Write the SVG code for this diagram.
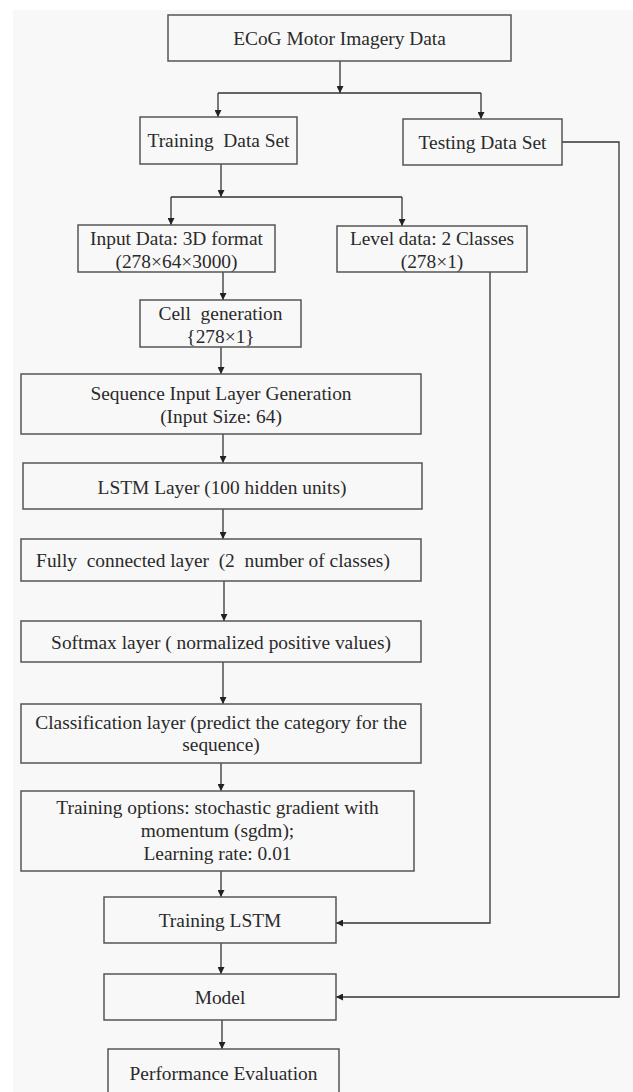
<svg xmlns="http://www.w3.org/2000/svg" width="633" height="1092" viewBox="0 0 633 1092">
<style>
.box{fill:#f8f8f8;stroke:#555;stroke-width:1.5}
.t{font-family:'Liberation Serif','Times New Roman','DejaVu Serif',serif;font-size:19.4px;fill:#2a2a2a;text-anchor:middle}
.c{fill:none;stroke:#333;stroke-width:1.3}
</style>
<defs>
<marker id="ah" viewBox="0 0 10 10" refX="10" refY="5" markerWidth="7" markerHeight="7" markerUnits="userSpaceOnUse" orient="auto">
<path d="M0,0 L10,5 L0,10 z" fill="#222"/>
</marker>
</defs>
<rect x="0" y="0" width="633" height="1092" fill="#ffffff"/>
<rect x="13" y="10" width="620" height="1082" fill="#f8f8f8"/>

<g id="connectors">
<path class="c" d="M340,61 V93" marker-end="url(#ah)"/>
<path class="c" d="M218,93 H481"/>
<path class="c" d="M218,93 V117" marker-end="url(#ah)"/>
<path class="c" d="M481,93 V119" marker-end="url(#ah)"/>
<path class="c" d="M221,164 V197" marker-end="url(#ah)"/>
<path class="c" d="M171,197 H402"/>
<path class="c" d="M171,197 V225" marker-end="url(#ah)"/>
<path class="c" d="M402,197 V226" marker-end="url(#ah)"/>
<path class="c" d="M223,272 V300" marker-end="url(#ah)"/>
<path class="c" d="M221,347 V374" marker-end="url(#ah)"/>
<path class="c" d="M223,434 V463" marker-end="url(#ah)"/>
<path class="c" d="M223,509 V539" marker-end="url(#ah)"/>
<path class="c" d="M224,581 V621" marker-end="url(#ah)"/>
<path class="c" d="M223,662 V704" marker-end="url(#ah)"/>
<path class="c" d="M221,763 V791" marker-end="url(#ah)"/>
<path class="c" d="M221,871 V897" marker-end="url(#ah)"/>
<path class="c" d="M221,943 V974" marker-end="url(#ah)"/>
<path class="c" d="M222,1020 V1049" marker-end="url(#ah)"/>
<path class="c" d="M490,272 V923 H336" marker-end="url(#ah)"/>
<path class="c" d="M562,142 H619 V997 H336" marker-end="url(#ah)"/>
</g>

<g id="ecog"><rect class="box" x="168" y="15" width="343" height="46"/><text class="t" x="339.5" y="44.5">ECoG Motor Imagery Data</text></g>
<g id="training"><rect class="box" x="140" y="117" width="157" height="47"/><text class="t" x="218.5" y="147" xml:space="preserve">Training  Data Set</text></g>
<g id="testing"><rect class="box" x="403" y="119" width="159" height="46"/><text class="t" x="482.5" y="149">Testing Data Set</text></g>
<g id="input"><rect class="box" x="78" y="225" width="197" height="47"/><text class="t" x="176.5" y="244.5">Input Data: 3D format</text><text class="t" x="176.5" y="268">(278×64×3000)</text></g>
<g id="level"><rect class="box" x="337" y="226" width="190" height="46"/><text class="t" x="432" y="244.5">Level data: 2 Classes</text><text class="t" x="432" y="268">(278×1)</text></g>
<g id="cell"><rect class="box" x="140" y="300" width="161" height="47"/><text class="t" x="220.5" y="319.5" xml:space="preserve">Cell  generation</text><text class="t" x="220.5" y="342.5">{278×1}</text></g>
<g id="sequence"><rect class="box" x="21" y="374" width="400" height="60"/><text class="t" x="221" y="399.5">Sequence Input Layer Generation</text><text class="t" x="221" y="422.5">(Input Size: 64)</text></g>
<g id="lstm"><rect class="box" x="23" y="463" width="399" height="46"/><text class="t" x="222" y="493.5">LSTM Layer (100 hidden units)</text></g>
<g id="fc"><rect class="box" x="21" y="539" width="400" height="42"/><text class="t" x="213" y="566.5" xml:space="preserve">Fully  connected layer  (2  number of classes)</text></g>
<g id="softmax"><rect class="box" x="21" y="621" width="400" height="41"/><text class="t" x="221" y="648.5">Softmax layer ( normalized positive values)</text></g>
<g id="classification"><rect class="box" x="21" y="704" width="400" height="59"/><text class="t" x="221" y="728.5">Classification layer (predict the category for the</text><text class="t" x="221" y="750.5">sequence)</text></g>
<g id="options"><rect class="box" x="21" y="791" width="393" height="80"/><text class="t" x="217.5" y="813.5">Training options: stochastic gradient with</text><text class="t" x="217.5" y="837">momentum (sgdm);</text><text class="t" x="217.5" y="860">Learning rate: 0.01</text></g>
<g id="training-lstm"><rect class="box" x="104" y="897" width="232" height="46"/><text class="t" x="220" y="926.5">Training LSTM</text></g>
<g id="model"><rect class="box" x="104" y="974" width="232" height="46"/><text class="t" x="220" y="1003.5">Model</text></g>
<g id="performance"><rect class="box" x="108" y="1049" width="231" height="48"/><text class="t" x="223.5" y="1079.5">Performance Evaluation</text></g>
</svg>
